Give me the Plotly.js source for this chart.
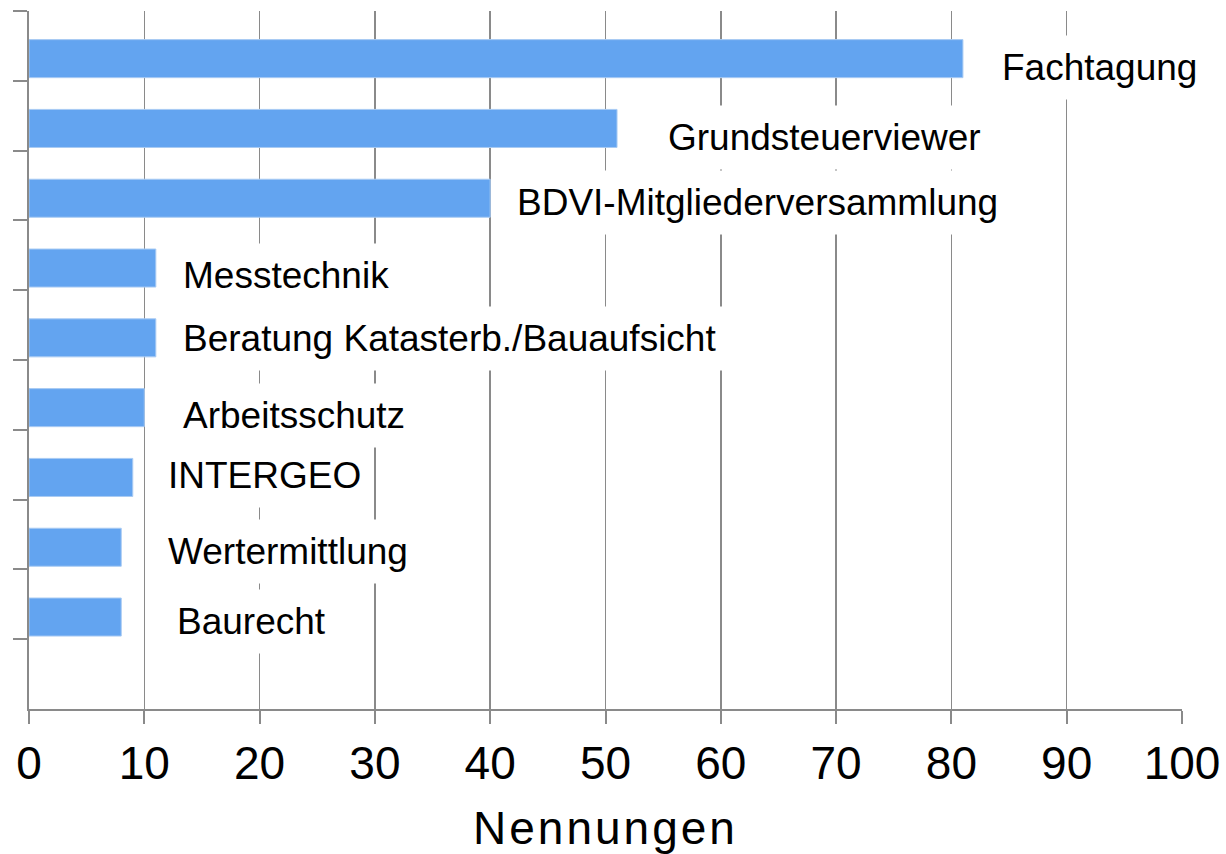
<!DOCTYPE html>
<html>
<head>
<meta charset="utf-8">
<script src="https://cdn.plot.ly/plotly-3.0.1.min.js"></script>
<style>
  html, body { margin: 0; padding: 0; background: #ffffff; }
  #chart { width: 1226px; height: 854px; }
  .xtitle { letter-spacing: 3px; }
</style>
</head>
<body>
<div id="chart"></div>
<script>
// ---- data ----
const categories = [
  "Fachtagung",
  "Grundsteuerviewer",
  "BDVI-Mitgliederversammlung",
  "Messtechnik",
  "Beratung Katasterb./Bauaufsicht",
  "Arbeitsschutz",
  "INTERGEO",
  "Wertermittlung",
  "Baurecht"
];
const values = [81, 51, 40, 11, 11, 10, 9, 8, 8];
const blankCategory = " ";
const xTickValues = [0, 10, 20, 30, 40, 50, 60, 70, 80, 90, 100];
const xTickLabels = ["0", "10", "20", "30", "40", "50", "60", "70", "80", "90", "100"];
const xAxisTitle = "Nennungen";

// ---- label placement (style) ----
const labelGap = [3.39, 4.42, 2.32, 2.36, 2.36, 3.36, 3.06, 4.06, 4.84];
const labelYShift = [-21.6, -21.3, -16.5, -19.7, -13.4, -20.1, -10.3, -16.5, -16.7];

const FONT = "Liberation Sans, Arial, sans-serif";
const GRID = "#8a8a8a";
const PAD = 11;

const trace = {
  type: "bar",
  orientation: "h",
  y: categories.concat([blankCategory]),
  x: values.concat([null]),
  width: 0.545,
  offset: -0.09,
  marker: { color: "#63a4f0", line: { color: "#a9cbf3", width: 1 } },
  hoverinfo: "skip",
  showlegend: false
};

const annotations = categories.map((c, i) => ({
  x: values[i] + labelGap[i],
  y: c,
  xref: "x",
  yref: "y",
  text: c,
  showarrow: false,
  xanchor: "left",
  yanchor: "middle",
  xshift: -(PAD + 1),
  yshift: labelYShift[i],
  bgcolor: "#ffffff",
  borderpad: PAD,
  font: { family: FONT, size: 37, color: "#000000" }
}));

const layout = {
  width: 1226,
  height: 854,
  margin: { l: 29, r: 44, t: 11, b: 145, pad: 0 },
  paper_bgcolor: "#ffffff",
  plot_bgcolor: "#ffffff",
  font: { family: FONT, color: "#000000" },
  showlegend: false,
  xaxis: {
    range: [0, 100],
    tickvals: xTickValues,
    ticktext: xTickLabels,
    showgrid: true,
    gridcolor: GRID,
    gridwidth: 1.6,
    zeroline: false,
    showline: true,
    linecolor: GRID,
    linewidth: 2,
    ticks: "outside",
    ticklen: 13,
    tickwidth: 2,
    tickcolor: GRID,
    tickfont: { family: FONT, size: 46, color: "#000000" },
    title: { text: xAxisTitle, font: { family: FONT, size: 46, color: "#000000" }, standoff: 25 },
    automargin: false,
    fixedrange: true
  },
  yaxis: {
    type: "category",
    categoryorder: "array",
    categoryarray: categories.concat([blankCategory]),
    range: [9.5, -0.5],
    showticklabels: false,
    showgrid: false,
    zeroline: false,
    showline: true,
    linecolor: GRID,
    linewidth: 2,
    ticks: "outside",
    tickson: "boundaries",
    ticklen: 14,
    tickwidth: 2,
    tickcolor: GRID,
    automargin: false,
    fixedrange: true
  },
  annotations: annotations
};

Plotly.newPlot("chart", [trace], layout, { staticPlot: true, displayModeBar: false });
</script>
</body>
</html>
